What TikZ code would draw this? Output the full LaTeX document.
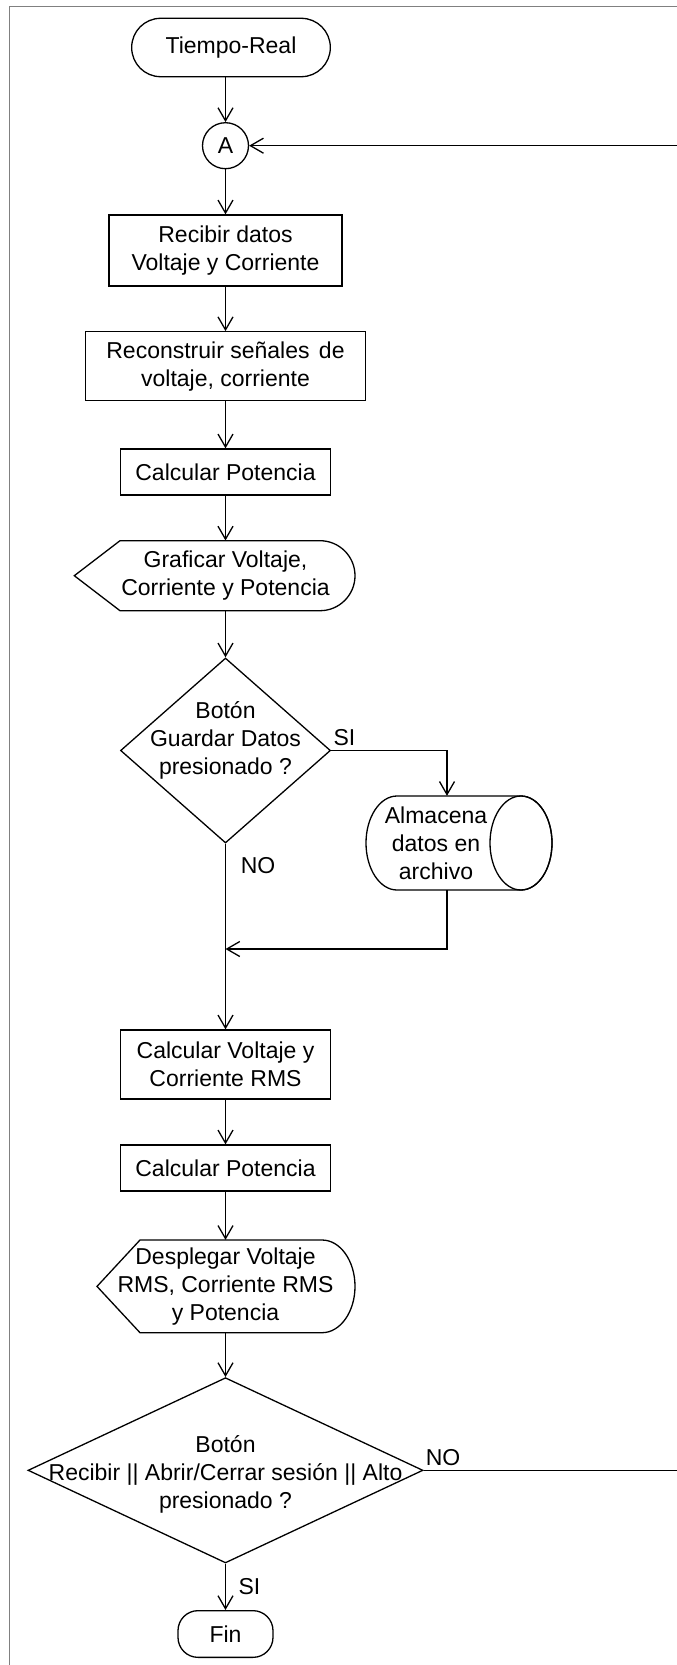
\documentclass[tikz,border=0pt]{standalone}
\usepackage{fontspec}
\setmainfont{Liberation Sans}
\usetikzlibrary{arrows.meta,shapes.geometric}
\tikzset{
  base/.style={font=\fontsize{23}{28}\selectfont, align=center, inner sep=0pt},
  proc/.style={base, draw, line width=1.3pt, rectangle},
  term/.style={base, draw, line width=1.3pt, rectangle, rounded corners=#1},
  flow/.style={draw, line width=1.3pt, -{Straight Barb[length=13pt,width=15pt]}},
  lbl/.style={font=\fontsize{23}{28}\selectfont, inner sep=0pt},
  outl/.style={draw, line width=1.3pt},
  framel/.style={draw=gray, line width=1pt}
}
\begin{document}
\begin{tikzpicture}
\useasboundingbox (0,0) rectangle (677pt,-1665pt);
\begin{scope}[x=1pt,y=1pt]
% frame
\draw[framel] (9.5,-1665) -- (9.5,-6) -- (677,-6);

% nodes
\node[term=29pt, minimum width=198.6pt, minimum height=58.4pt] (tr) at (231,-47.5) {Tiempo-Real};
\node[base, draw, circle, line width=1.3pt, minimum size=46pt] (A) at (225.5,-145.7) {A};
\node[proc, minimum width=233pt, minimum height=71pt] (rd) at (225.5,-250.5) {Recibir datos\\Voltaje y Corriente};
\node[proc, minimum width=280pt, minimum height=69pt] (rs) at (225.5,-366.3) {Reconstruir se\~nales\hspace{3pt} de\\voltaje, corriente};
\node[proc, minimum width=210pt, minimum height=46pt] (cp1) at (225.5,-472) {Calcular Potencia};

\node[base, minimum width=200pt, minimum height=70pt] (gr) at (225.5,-575.7) {Graficar Voltaje,\\Corriente y Potencia};
\draw[outl] (74.3,-575.7) -- (120,-540.7) -- (320,-540.7)
   arc[start angle=90, end angle=-90, x radius=35, y radius=35] -- (120,-610.7) -- cycle;

\node[diamond, draw, line width=1.3pt, minimum width=210pt, minimum height=185pt, inner sep=0pt] (d1) at (225.5,-750.5) {};
\node[base] (d1t) at (225.5,-740) {Bot\'on\\Guardar Datos\\presionado ?};

\node[base, minimum height=94pt] (cy) at (436,-843) {Almacena\\datos en\\archivo};
\draw[outl] (397,-796) -- (521,-796)
   arc[start angle=90, end angle=-90, x radius=31, y radius=47] -- (397,-890)
   arc[start angle=270, end angle=90, x radius=31, y radius=47] -- cycle;
\draw[outl] (521,-843) ellipse[x radius=31, y radius=47];

\node[proc, minimum width=210pt, minimum height=69pt] (cv) at (225.5,-1064.5) {Calcular Voltaje y\\Corriente RMS};
\node[proc, minimum width=210pt, minimum height=46pt] (cp2) at (225.5,-1168) {Calcular Potencia};

\node[base, minimum width=200pt, minimum height=92.7pt] (dp) at (225.5,-1286.4) {Desplegar Voltaje\\RMS, Corriente RMS\\y Potencia};
\draw[outl] (97,-1286.4) -- (140,-1240) -- (322,-1240)
   arc[start angle=90, end angle=-90, x radius=33, y radius=46.35] -- (140,-1332.7) -- cycle;

\node[diamond, draw, line width=1.3pt, minimum width=395pt, minimum height=185.3pt, inner sep=0pt] (d2) at (225.5,-1470.3) {};
\node[base] (d2t) at (225.5,-1474.5) {Bot\'on\\Recibir || Abrir/Cerrar sesi\'on || Alto\\presionado ?};

\node[term=20pt, minimum width=95pt, minimum height=46.7pt] (fin) at (225.5,-1634) {Fin};

% labels
\node[lbl] (si1) at (344.5,-737.5) {SI};
\node[lbl] (no1) at (258,-866) {NO};
\node[lbl] (no2) at (443,-1458) {NO};
\node[lbl] (si2) at (249.5,-1587) {SI};

% connectors
\coordinate (mrg) at (225.5,-949);
\coordinate (rt) at (678,-1470.3);
\draw[flow] (tr.south -| A.north) -- (A.north);
\draw[flow] (A.south) -- (rd.north);
\draw[flow] (rd.south) -- (rs.north);
\draw[flow] (rs.south) -- (cp1.north);
\draw[flow] (cp1.south) -- (gr.north);
\draw[flow] (gr.south) -- (d1.north);
\draw[flow] (d1.east) -| ([xshift=11pt]cy.north);
\draw[flow] ([xshift=11pt]cy.south) |- (mrg);
\draw[flow] (d1.south) -- (cv.north);
\draw[flow] (cv.south) -- (cp2.north);
\draw[flow] (cp2.south) -- (dp.north);
\draw[flow] (dp.south) -- (d2.north);
\draw[flow] (d2.south) -- (fin.north);
\draw[flow] (d2.east) -- (rt) |- (A.east);
\end{scope}
\end{tikzpicture}
\end{document}
